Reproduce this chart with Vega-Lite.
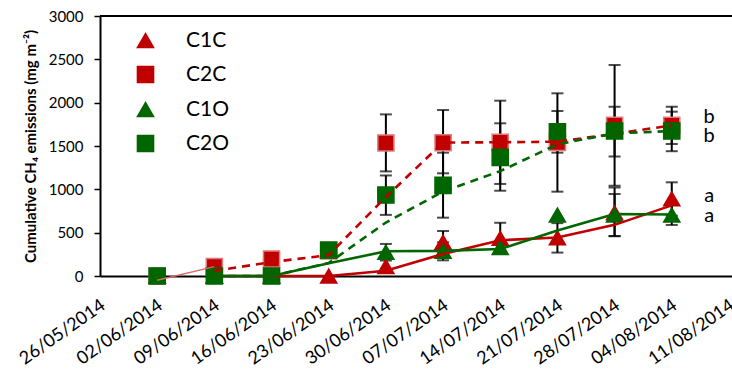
{
  "$schema": "https://vega.github.io/schema/vega-lite/v6.json",
  "width": 632,
  "height": 260,
  "autosize": {"type": "none"},
  "padding": {"left": 100, "top": 16, "right": 0, "bottom": 107},
  "background": "white",
  "config": {
    "view": {"stroke": null},
    "font": "Lato",
    "axis": {"grid": false}
  },
  "datasets": {
    "pts": [
      {"date": "2014-06-02", "series": "C1C", "value": 0},
      {"date": "2014-06-09", "series": "C1C", "value": 0},
      {"date": "2014-06-16", "series": "C1C", "value": 0},
      {"date": "2014-06-23", "series": "C1C", "value": 0},
      {"date": "2014-06-30", "series": "C1C", "value": 108},
      {"date": "2014-07-07", "series": "C1C", "value": 390},
      {"date": "2014-07-14", "series": "C1C", "value": 434},
      {"date": "2014-07-21", "series": "C1C", "value": 440},
      {"date": "2014-07-28", "series": "C1C", "value": 730},
      {"date": "2014-08-04", "series": "C1C", "value": 890},
      {"date": "2014-06-02", "series": "C2C", "value": 0},
      {"date": "2014-06-09", "series": "C2C", "value": 108},
      {"date": "2014-06-16", "series": "C2C", "value": 196},
      {"date": "2014-06-23", "series": "C2C", "value": 288},
      {"date": "2014-06-30", "series": "C2C", "value": 1535},
      {"date": "2014-07-07", "series": "C2C", "value": 1538},
      {"date": "2014-07-14", "series": "C2C", "value": 1542},
      {"date": "2014-07-21", "series": "C2C", "value": 1542},
      {"date": "2014-07-28", "series": "C2C", "value": 1738},
      {"date": "2014-08-04", "series": "C2C", "value": 1738},
      {"date": "2014-06-02", "series": "C1O", "value": 0},
      {"date": "2014-06-09", "series": "C1O", "value": 0},
      {"date": "2014-06-16", "series": "C1O", "value": 0},
      {"date": "2014-06-23", "series": "C1O", "value": 290},
      {"date": "2014-06-30", "series": "C1O", "value": 275},
      {"date": "2014-07-07", "series": "C1O", "value": 285},
      {"date": "2014-07-14", "series": "C1O", "value": 330},
      {"date": "2014-07-21", "series": "C1O", "value": 704},
      {"date": "2014-07-28", "series": "C1O", "value": 704},
      {"date": "2014-08-04", "series": "C1O", "value": 704},
      {"date": "2014-06-02", "series": "C2O", "value": 0},
      {"date": "2014-06-09", "series": "C2O", "value": 0},
      {"date": "2014-06-16", "series": "C2O", "value": 0},
      {"date": "2014-06-23", "series": "C2O", "value": 300},
      {"date": "2014-06-30", "series": "C2O", "value": 934},
      {"date": "2014-07-07", "series": "C2O", "value": 1045},
      {"date": "2014-07-14", "series": "C2O", "value": 1369},
      {"date": "2014-07-21", "series": "C2O", "value": 1665},
      {"date": "2014-07-28", "series": "C2O", "value": 1673},
      {"date": "2014-08-04", "series": "C2O", "value": 1673}
    ],
    "err": [
      {"date": "2014-07-07", "series": "C1C", "lo": 261, "hi": 519},
      {"date": "2014-07-14", "series": "C1C", "lo": 254, "hi": 614},
      {"date": "2014-07-21", "series": "C1C", "lo": 270, "hi": 610},
      {"date": "2014-07-28", "series": "C1C", "lo": 460, "hi": 1020},
      {"date": "2014-08-04", "series": "C1C", "lo": 696, "hi": 1081},
      {"date": "2014-06-30", "series": "C1O", "lo": 178, "hi": 370},
      {"date": "2014-07-07", "series": "C1O", "lo": 181, "hi": 389},
      {"date": "2014-07-28", "series": "C1O", "lo": 461, "hi": 946},
      {"date": "2014-08-04", "series": "C1O", "lo": 589, "hi": 819},
      {"date": "2014-06-30", "series": "C2C", "lo": 1207, "hi": 1865},
      {"date": "2014-07-07", "series": "C2C", "lo": 1185, "hi": 1915},
      {"date": "2014-07-14", "series": "C2C", "lo": 1062, "hi": 2023},
      {"date": "2014-07-21", "series": "C2C", "lo": 973, "hi": 2108},
      {"date": "2014-07-28", "series": "C2C", "lo": 1040, "hi": 2435},
      {"date": "2014-08-04", "series": "C2C", "lo": 1523, "hi": 1953},
      {"date": "2014-06-30", "series": "C2O", "lo": 705, "hi": 1160},
      {"date": "2014-07-07", "series": "C2O", "lo": 673, "hi": 1423},
      {"date": "2014-07-14", "series": "C2O", "lo": 984, "hi": 1762},
      {"date": "2014-07-21", "series": "C2O", "lo": 1423, "hi": 1904},
      {"date": "2014-07-28", "series": "C2O", "lo": 1380, "hi": 1953},
      {"date": "2014-08-04", "series": "C2O", "lo": 1440, "hi": 1896}
    ],
    "trend": [
      {"date": "2014-06-09", "series": "C1C", "value": 0},
      {"date": "2014-06-16", "series": "C1C", "value": 0},
      {"date": "2014-06-23", "series": "C1C", "value": 0},
      {"date": "2014-06-30", "series": "C1C", "value": 60},
      {"date": "2014-07-07", "series": "C1C", "value": 255},
      {"date": "2014-07-14", "series": "C1C", "value": 412},
      {"date": "2014-07-21", "series": "C1C", "value": 445},
      {"date": "2014-07-28", "series": "C1C", "value": 590},
      {"date": "2014-08-04", "series": "C1C", "value": 815},
      {"date": "2014-06-09", "series": "C2C", "value": 60},
      {"date": "2014-06-16", "series": "C2C", "value": 160},
      {"date": "2014-06-23", "series": "C2C", "value": 242},
      {"date": "2014-06-30", "series": "C2C", "value": 912},
      {"date": "2014-07-07", "series": "C2C", "value": 1540},
      {"date": "2014-07-14", "series": "C2C", "value": 1543},
      {"date": "2014-07-21", "series": "C2C", "value": 1550},
      {"date": "2014-07-28", "series": "C2C", "value": 1640},
      {"date": "2014-08-04", "series": "C2C", "value": 1738},
      {"date": "2014-06-09", "series": "C1O", "value": 0},
      {"date": "2014-06-16", "series": "C1O", "value": 0},
      {"date": "2014-06-23", "series": "C1O", "value": 146},
      {"date": "2014-06-30", "series": "C1O", "value": 285},
      {"date": "2014-07-07", "series": "C1O", "value": 290},
      {"date": "2014-07-14", "series": "C1O", "value": 311},
      {"date": "2014-07-21", "series": "C1O", "value": 525},
      {"date": "2014-07-28", "series": "C1O", "value": 715},
      {"date": "2014-08-04", "series": "C1O", "value": 710},
      {"date": "2014-06-09", "series": "C2O", "value": 0},
      {"date": "2014-06-16", "series": "C2O", "value": 0},
      {"date": "2014-06-23", "series": "C2O", "value": 150},
      {"date": "2014-06-30", "series": "C2O", "value": 617},
      {"date": "2014-07-07", "series": "C2O", "value": 975},
      {"date": "2014-07-14", "series": "C2O", "value": 1210},
      {"date": "2014-07-21", "series": "C2O", "value": 1520},
      {"date": "2014-07-28", "series": "C2O", "value": 1645},
      {"date": "2014-08-04", "series": "C2O", "value": 1673}
    ],
    "link": [
      {"date": "2014-06-02", "value": -50},
      {"date": "2014-06-09", "value": 108}
    ],
    "letters": [
      {"date": "2014-08-08T14:00:00Z", "value": 1762, "text": "b"},
      {"date": "2014-08-08T14:00:00Z", "value": 1550, "text": "b"},
      {"date": "2014-08-08T14:00:00Z", "value": 857, "text": "a"},
      {"date": "2014-08-08T14:00:00Z", "value": 627, "text": "a"}
    ],
    "frame": [{"top": 3000}]
  },
  "layer": [
    {
      "data": {"name": "err"},
      "mark": {"type": "rule", "color": "black", "strokeWidth": 2},
      "encoding": {
        "x": {"field": "date", "type": "temporal", "scale": {"type": "utc"}},
        "y": {"field": "lo", "type": "quantitative"},
        "y2": {"field": "hi"}
      }
    },
    {
      "data": {"name": "err"},
      "mark": {"type": "tick", "orient": "horizontal", "color": "black", "size": 12, "thickness": 2},
      "encoding": {
        "x": {"field": "date", "type": "temporal", "scale": {"type": "utc"}},
        "y": {"field": "lo", "type": "quantitative"}
      }
    },
    {
      "data": {"name": "err"},
      "mark": {"type": "tick", "orient": "horizontal", "color": "black", "size": 12, "thickness": 2},
      "encoding": {
        "x": {"field": "date", "type": "temporal", "scale": {"type": "utc"}},
        "y": {"field": "hi", "type": "quantitative"}
      }
    },
    {
      "data": {"name": "pts"},
      "mark": {"type": "point", "filled": true, "opacity": 1, "strokeWidth": 1.5, "clip": false},
      "encoding": {
        "x": {
          "field": "date",
          "type": "temporal",
          "scale": {
            "type": "utc",
            "nice": false,
            "domain": [
              {"year": 2014, "month": 5, "date": 26, "utc": true},
              {"year": 2014, "month": 8, "date": 11, "hours": 9, "utc": true}
            ]
          },
          "axis": {
            "title": null,
            "format": "%d/%m/%Y",
            "values": [
              {"year": 2014, "month": 5, "date": 26, "utc": true},
              {"year": 2014, "month": 6, "date": 2, "utc": true},
              {"year": 2014, "month": 6, "date": 9, "utc": true},
              {"year": 2014, "month": 6, "date": 16, "utc": true},
              {"year": 2014, "month": 6, "date": 23, "utc": true},
              {"year": 2014, "month": 6, "date": 30, "utc": true},
              {"year": 2014, "month": 7, "date": 7, "utc": true},
              {"year": 2014, "month": 7, "date": 14, "utc": true},
              {"year": 2014, "month": 7, "date": 21, "utc": true},
              {"year": 2014, "month": 7, "date": 28, "utc": true},
              {"year": 2014, "month": 8, "date": 4, "utc": true},
              {"year": 2014, "month": 8, "date": 11, "utc": true}
            ],
            "labelAngle": -35,
            "labelAlign": "right",
            "labelBaseline": "top",
            "labelFontSize": 18,
            "labelColor": "black",
            "labelPadding": 20,
            "labelOffset": -2,
            "labelOverlap": false,
            "labelFlush": false,
            "labelBound": false,
            "ticks": false,
            "domainColor": "black",
            "domainWidth": 2
          }
        },
        "y": {
          "field": "value",
          "type": "quantitative",
          "scale": {"domain": [0, 3000], "nice": false},
          "axis": {
            "title": "Cumulative CH₄ emissions (mg m⁻²)",
            "titleFontSize": 15,
            "titleFontWeight": "bold",
            "titleColor": "black",
            "titlePadding": 10,
            "format": "d",
            "values": [0, 500, 1000, 1500, 2000, 2500, 3000],
            "labelFontSize": 15,
            "labelColor": "black",
            "labelPadding": 11,
            "ticks": true,
            "tickSize": 6,
            "tickColor": "black",
            "tickWidth": 1.5,
            "domainColor": "black",
            "domainWidth": 2
          }
        },
        "color": {
          "field": "series",
          "type": "nominal",
          "scale": {"domain": ["C1C", "C2C", "C1O", "C2O"], "range": ["#C00000", "#C00000", "#006600", "#006600"]},
          "legend": {
            "title": null,
            "orient": "none",
            "legendX": 35,
            "legendY": 14,
            "padding": 0,
            "labelFontSize": 21,
            "labelColor": "black",
            "labelOffset": 30,
            "rowPadding": 12,
            "symbolSize": 260,
            "symbolStrokeWidth": 1.5
          }
        },
        "shape": {
          "field": "series",
          "type": "nominal",
          "scale": {"domain": ["C1C", "C2C", "C1O", "C2O"], "range": ["triangle-up", "square", "triangle-up", "square"]}
        },
        "stroke": {
          "field": "series",
          "type": "nominal",
          "scale": {"domain": ["C1C", "C2C", "C1O", "C2O"], "range": ["#C00000", "#DE7C7C", "#006600", "#006600"]}
        },
        "size": {"value": 260}
      }
    },
    {
      "data": {"name": "trend"},
      "transform": [{"filter": {"field": "series", "oneOf": ["C1C", "C1O"]}}],
      "mark": {"type": "line", "strokeWidth": 2.6},
      "encoding": {
        "x": {"field": "date", "type": "temporal", "scale": {"type": "utc"}},
        "y": {"field": "value", "type": "quantitative"},
        "color": {"field": "series", "type": "nominal", "legend": null}
      }
    },
    {
      "data": {"name": "trend"},
      "transform": [{"filter": {"field": "series", "oneOf": ["C2C", "C2O"]}}],
      "mark": {"type": "line", "strokeWidth": 2.6, "strokeDash": [8, 6]},
      "encoding": {
        "x": {"field": "date", "type": "temporal", "scale": {"type": "utc"}},
        "y": {"field": "value", "type": "quantitative"},
        "color": {"field": "series", "type": "nominal", "legend": null}
      }
    },
    {
      "data": {"name": "link"},
      "mark": {"type": "line", "color": "#D46A6A", "strokeWidth": 1.5, "clip": false},
      "encoding": {
        "x": {"field": "date", "type": "temporal", "scale": {"type": "utc"}},
        "y": {"field": "value", "type": "quantitative"}
      }
    },
    {
      "data": {"name": "letters"},
      "mark": {"type": "text", "fontSize": 20, "color": "black", "align": "center", "baseline": "alphabetic", "clip": false},
      "encoding": {
        "x": {"field": "date", "type": "temporal", "scale": {"type": "utc"}},
        "y": {"field": "value", "type": "quantitative"},
        "text": {"field": "text"}
      }
    },
    {
      "data": {"name": "frame"},
      "mark": {"type": "rule", "color": "black", "strokeWidth": 2},
      "encoding": {"y": {"field": "top", "type": "quantitative"}}
    }
  ]
}
